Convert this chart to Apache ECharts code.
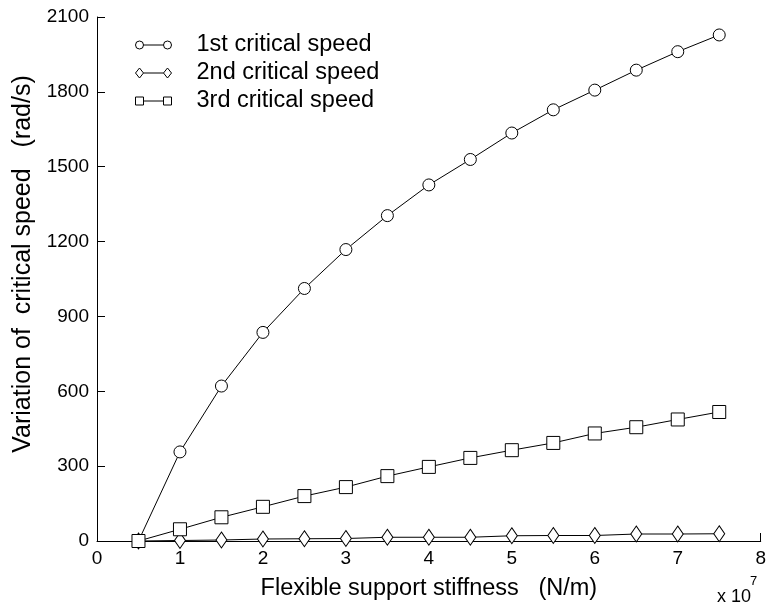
<!DOCTYPE html>
<html>
<head>
<meta charset="utf-8">
<script src="https://cdn.jsdelivr.net/npm/echarts@6/dist/echarts.min.js"></script>
<style>
  html, body { margin: 0; padding: 0; background: #fff; }
  #chart { width: 769px; height: 606px; }
</style>
</head>
<body>
<div id="chart"></div>
<script>
// Support stiffness (x 10^7 N/m)
const stiffness = [0.5, 1, 1.5, 2, 2.5, 3, 3.5, 4, 4.5, 5, 5.5, 6, 6.5, 7, 7.5];

// Variation of critical speeds (rad/s)
const firstCritical  = [0, 357, 621, 836, 1012, 1168, 1304, 1427, 1529, 1635, 1728, 1807, 1887, 1961, 2028];
const secondCritical = [0, 2, 4, 8, 9, 10, 15, 15, 15, 21, 22, 22, 28, 28, 29];
const thirdCritical  = [0, 47, 95, 137, 180, 216, 260, 297, 333, 364, 393, 431, 456, 487, 517];

const seriesNames = ['1st critical speed', '2nd critical speed', '3rd critical speed'];

const FONT = '"Liberation Sans", Arial, sans-serif';

function pairs(ys) {
  return stiffness.map((x, i) => [x, ys[i]]);
}

// legend icons: marker - line - marker
const iconCircle  = 'path://M1,5A4,4 0 1 0 9,5A4,4 0 1 0 1,5Z M9,5L29,5 M29,5A4,4 0 1 0 37,5A4,4 0 1 0 29,5Z';
const iconDiamond = 'path://M5,0L9,5L5,10L1,5Z M9,5L29,5 M33,0L37,5L33,10L29,5Z';
const iconSquare  = 'path://M1,1H9V9H1Z M9,5L29,5 M29,1H37V9H29Z';

const markerStyle = { color: '#fff', borderColor: '#000', borderWidth: 1 };
const lineStyle = { color: '#000', width: 1 };

const chart = echarts.init(document.getElementById('chart'), null, { renderer: 'canvas' });

chart.setOption({
  backgroundColor: '#fff',
  animation: false,
  grid: { left: 97, right: 7, top: 17, bottom: 65, containLabel: false },
  legend: {
    orient: 'vertical',
    left: 135,
    top: 33,
    padding: 0,
    itemWidth: 36,
    itemHeight: 10,
    itemGap: 4,
    selectedMode: false,
    itemStyle: { color: '#fff', borderColor: '#000', borderWidth: 1 },
    textStyle: { fontFamily: FONT, fontSize: 23.5, color: '#000', lineHeight: 23, padding: [0, 0, 0, 20] },
    data: [
      { name: seriesNames[0], icon: iconCircle },
      { name: seriesNames[1], icon: iconDiamond },
      { name: seriesNames[2], icon: iconSquare }
    ]
  },
  xAxis: {
    type: 'value',
    min: 0,
    max: 8,
    interval: 1,
    name: 'Flexible support stiffness   (N/m)',
    nameLocation: 'middle',
    nameGap: 36,
    nameTextStyle: { fontFamily: FONT, fontSize: 23.5, color: '#000' },
    axisLine: { show: true, onZero: false, lineStyle: { color: '#000', width: 1 } },
    axisTick: { show: true, inside: true, length: 8, lineStyle: { color: '#000' } },
    axisLabel: { fontFamily: FONT, fontSize: 19, color: '#000', margin: 8 },
    splitLine: { show: false }
  },
  yAxis: {
    type: 'value',
    min: 0,
    max: 2100,
    interval: 300,
    name: 'Variation of  critical speed   (rad/s)',
    nameLocation: 'middle',
    nameGap: 58,
    nameTextStyle: { fontFamily: FONT, fontSize: 25, color: '#000', padding: [0, 0, 0, 30] },
    axisLine: { show: true, onZero: false, lineStyle: { color: '#000', width: 1 } },
    axisTick: { show: true, inside: true, length: 8, lineStyle: { color: '#000' } },
    axisLabel: {
      fontFamily: FONT, fontSize: 19, color: '#000', margin: 8,
      formatter: (v) => String(v)
    },
    splitLine: { show: false }
  },
  graphic: [
    { type: 'text', left: 717, top: 588, style: { text: 'x 10', font: '18px ' + FONT, fill: '#000' } },
    { type: 'text', left: 750, top: 575, style: { text: '7', font: '13px ' + FONT, fill: '#000' } }
  ],
  series: [
    {
      name: seriesNames[0],
      type: 'line',
      data: pairs(firstCritical),
      symbol: 'circle',
      symbolSize: 12,
      showAllSymbol: true,
      lineStyle: lineStyle,
      itemStyle: markerStyle,
      z: 2
    },
    {
      name: seriesNames[1],
      type: 'line',
      data: pairs(secondCritical),
      symbol: 'diamond',
      symbolSize: [11, 16],
      showAllSymbol: true,
      lineStyle: lineStyle,
      itemStyle: markerStyle,
      z: 3
    },
    {
      name: seriesNames[2],
      type: 'line',
      data: pairs(thirdCritical),
      symbol: 'rect',
      symbolSize: 13,
      showAllSymbol: true,
      lineStyle: lineStyle,
      itemStyle: markerStyle,
      z: 4
    }
  ]
});
</script>
</body>
</html>
